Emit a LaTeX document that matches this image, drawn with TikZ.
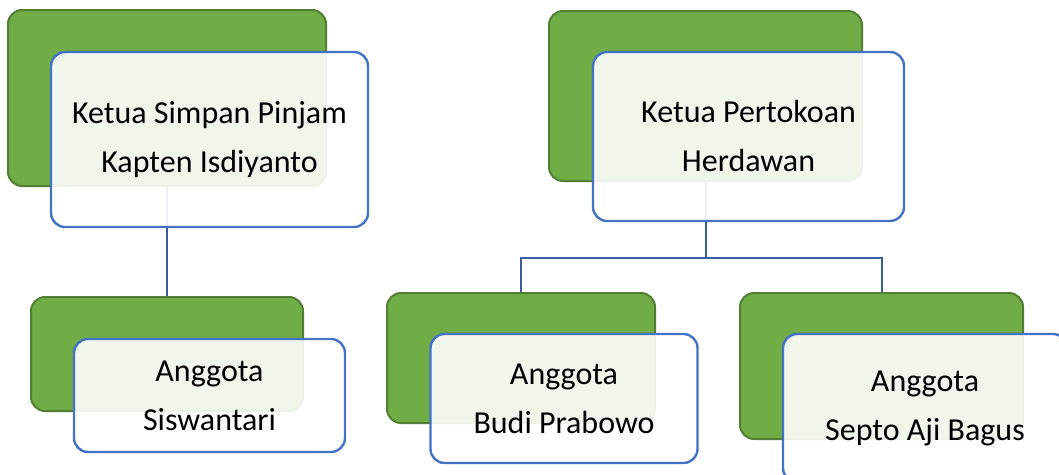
\documentclass[tikz,border=0pt]{standalone}
\usepackage{fontspec}
\setmainfont{Carlito}
\definecolor{grnfill}{HTML}{70AD47}
\definecolor{grnline}{HTML}{507E32}
\definecolor{bluline}{HTML}{4472C4}
\definecolor{conline}{HTML}{3A5DA0}
\tikzset{
  backbox/.style={draw=grnline, line width=2pt, fill=grnfill, rounded corners=14pt, inner sep=0pt},
  frontbox/.style={draw=bluline, line width=2.4pt, fill=white, fill opacity=0.9, text opacity=1, rounded corners=14pt, inner sep=0pt, align=center, text=black, font=\fontsize{32}{49}\selectfont},
  conn/.style={draw=conline, line width=2pt}
}
\begin{document}
\begin{tikzpicture}[x=1pt,y=-1pt]
\useasboundingbox (0,0) rectangle (1059,474);
\clip (0,0) rectangle (1059,474);
% back boxes
\node[backbox, minimum width=318pt, minimum height=176pt] (gA) at (167,98) {};
\node[backbox, minimum width=313pt, minimum height=170pt] (gB) at (705.5,96) {};
\node[backbox, minimum width=272pt, minimum height=114pt] (gC) at (167,354) {};
\node[backbox, minimum width=268pt, minimum height=130pt] (gD) at (521,358) {};
\node[backbox, minimum width=283pt, minimum height=146pt] (gE) at (881.5,366) {};
% connectors
\coordinate (bus) at (705.5,258);
\draw[conn] (gA.south) -- (gC.north);
\draw[conn] (gB.south) -- (bus);
\draw[conn] (bus) -| (gD.north);
\draw[conn] (bus) -| (gE.north);
% front boxes
\node[frontbox, minimum width=317pt, minimum height=175pt] (wA) at (209.5,139.5) {Ketua Simpan Pinjam\\Kapten Isdiyanto};
\node[frontbox, minimum width=311pt, minimum height=169pt] (wB) at (748.5,136.5) {Ketua Pertokoan\\Herdawan};
\node[frontbox, minimum width=271pt, minimum height=113pt] (wC) at (209.5,395.5) {Anggota\\Siswantari};
\node[frontbox, minimum width=267pt, minimum height=129pt] (wD) at (564,398.5) {Anggota\\Budi Prabowo};
\node[frontbox, minimum width=284pt, minimum height=148pt] (wE) at (925,408) {Anggota\\Septo Aji Bagus};
\end{tikzpicture}
\end{document}
